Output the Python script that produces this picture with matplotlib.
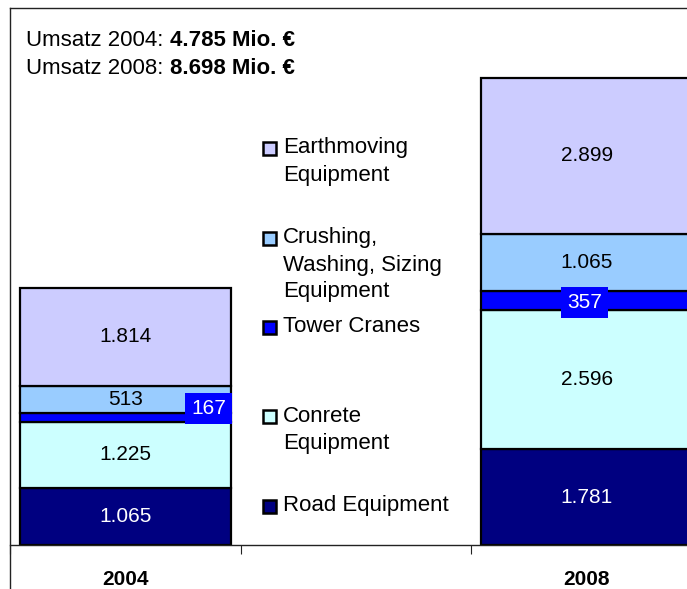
import matplotlib.pyplot as plt
from matplotlib.patches import Rectangle
from matplotlib.lines import Line2D

plt.rcParams['font.family'] = ['Liberation Sans', 'DejaVu Sans']

years = ['2004', '2008']
# stacked bottom -> top
series = ['Road Equipment', 'Conrete\nEquipment', 'Tower Cranes',
          'Crushing,\nWashing, Sizing\nEquipment', 'Earthmoving\nEquipment']
colors = ['#000080', '#CCFFFF', '#0000FF', '#99CCFF', '#CCCCFF']
road = [1065, 1781]
concrete = [1225, 2596]
tower = [167, 357]
crushing = [513, 1065]
earthmoving = [1814, 2899]
values = [road, concrete, tower, crushing, earthmoving]
totals = ['4.785', '8.698']

W, H = 687, 589
fig = plt.figure(figsize=(W / 100, H / 100), dpi=100)

def fx(px):
    return px / W

def fy(py):
    return 1 - py / H

ax = fig.add_axes([fx(10), fy(545), 692 / W, (545 - 8) / H])
xpos = [0, 2]
bw = 0.913
bottoms = [0, 0]
for i, vals in enumerate(values):
    ax.bar(xpos, vals, bw, bottom=bottoms, color=colors[i],
           edgecolor='black', linewidth=1.6, zorder=2)
    for j in range(2):
        mid = bottoms[j] + vals[j] / 2
        lab = f'{vals[j] / 1000:.3f}' if vals[j] >= 1000 else str(vals[j])
        if i == 2:
            xx = xpos[j] + (0.36 if j == 0 else -0.01)
            yy = mid + (170 if j == 0 else -40)
            ax.text(xx, yy, lab, ha='center', va='center', color='white',
                    fontsize=15, zorder=4,
                    bbox=dict(boxstyle='square,pad=0.3', fc='#0000FF', ec='none'))
        else:
            ax.text(xpos[j], mid, lab, ha='center', va='center', fontsize=15,
                    color='white' if i == 0 else 'black', zorder=3)
    bottoms = [bottoms[k] + vals[k] for k in range(2)]

ax.set_xlim(-0.5, 2.5)
ax.set_ylim(0, 10000)
for s in ['top', 'right', 'left']:
    ax.spines[s].set_visible(False)
ax.spines['bottom'].set_linewidth(1.0)
ax.spines['bottom'].set_color('#222222')
ax.set_yticks([])
ax.set_xticks([-0.5, 0.5, 1.5])
ax.set_xticklabels([])
ax.tick_params(axis='x', which='major', length=6.5, width=0.8, color='#222222')
ax.set_xticks(xpos, minor=True)
ax.set_xticklabels(years, minor=True, fontsize=15, fontweight='bold')
ax.tick_params(axis='x', which='minor', length=0, pad=18)
ax.patch.set_visible(False)

# chart area border (left and top)
fig.add_artist(Line2D([fx(10), fx(10)], [fy(8), 0], color='#222222', lw=1.0))
fig.add_artist(Line2D([fx(10), 1], [fy(8), fy(8)], color='#222222', lw=1.0))

# header text
for k, (yr, tot) in enumerate(zip(years, totals)):
    t = fig.text(fx(26), fy(40 + k * 28), f'Umsatz {yr}: ', fontsize=16, va='center')
    ax.annotate(f'{tot} Mio. €', xy=(1, 0), xycoords=t, va='bottom', ha='left',
                fontsize=16, fontweight='bold', annotation_clip=False)

# legend
first_lines = [506, 416, 327, 238, 148]
for i in range(len(series)):
    yc = first_lines[i]
    fig.add_artist(Rectangle((fx(263), fy(yc + 7)), 13 / W, 13 / H,
                             facecolor=colors[i], edgecolor='black', lw=1.8,
                             transform=fig.transFigure))
    for n, line in enumerate(series[i].split('\n')):
        fig.text(fx(283), fy(yc + n * 27), line, fontsize=16, va='center')

fig.savefig('out.png', dpi=100)
